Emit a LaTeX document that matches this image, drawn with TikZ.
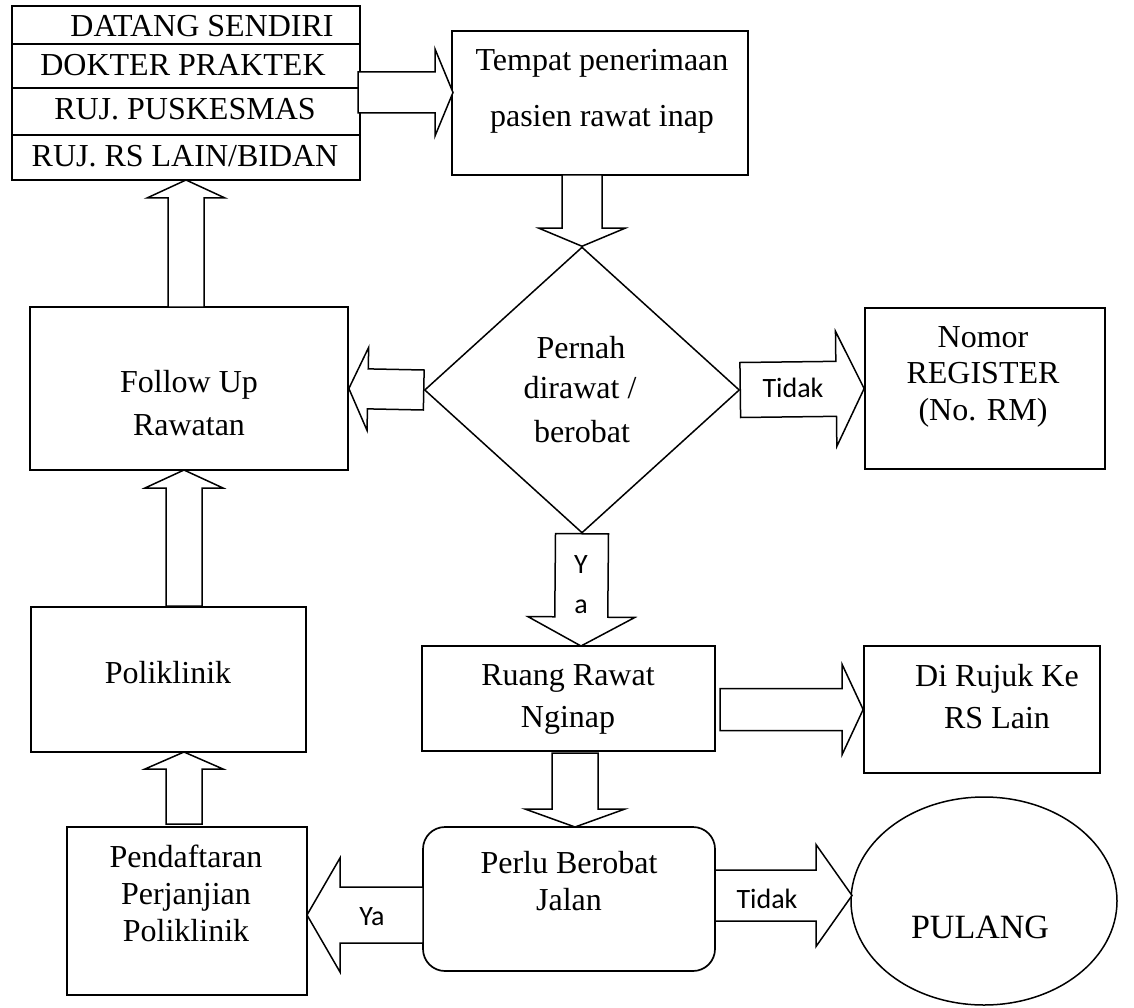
\documentclass[tikz,border=0pt]{standalone}
\usepackage{fontspec}
\setmainfont{Liberation Serif}
\newfontfamily\sansf{Carlito}
\usetikzlibrary{shapes.geometric,calc}

\tikzset{
  boxs/.style={draw, line width=1.7pt, inner sep=0pt},
  txt/.style={anchor=base, inner sep=0pt, font=\fontsize{32}{36}\selectfont},
  bigtxt/.style={anchor=base, inner sep=0pt, font=\fontsize{34}{38}\selectfont},
  stxt/.style={anchor=base, inner sep=0pt, font=\sansf\fontsize{28}{32}\selectfont},
  barrow/.style={draw, line width=1.5pt, fill=white, line join=miter},
}

% #1 from, #2 to, #3 shaft half width, #4 head half width, #5 head length
\newcommand\blockarrow[5]{%
  \coordinate (bahead) at ($(#2)!#5!(#1)$);
  \draw[barrow] ($(#1)!#3!90:(#2)$) -- ($(bahead)!#3!90:(#2)$) -- ($(bahead)!#4!90:(#2)$)
    -- (#2) -- ($(bahead)!#4!-90:(#2)$) -- ($(bahead)!#3!-90:(#2)$) -- ($(#1)!#3!-90:(#2)$) -- cycle;
}

\begin{document}
\begin{tikzpicture}[x=1pt,y=-1pt]
\useasboundingbox (0,0) rectangle (1134,1008);

% boxes
\node[boxs, minimum width=348pt, minimum height=174pt] (list) at (186,93) {};
\draw[line width=1.7pt] ($(list.north west)+(0,39)$) -- ($(list.north east)+(0,39)$);
\draw[line width=1.7pt] ($(list.north west)+(0,83)$) -- ($(list.north east)+(0,83)$);
\draw[line width=1.7pt] ($(list.north west)+(0,130)$) -- ($(list.north east)+(0,130)$);
\node[txt] (l1) at (202,37) {DATANG SENDIRI};
\node[txt] (l2) at (183,76) {DOKTER PRAKTEK};
\node[txt] (l3) at (185,120) {RUJ. PUSKESMAS};
\node[txt] (l4) at (185,167) {RUJ. RS LAIN/BIDAN};

\node[boxs, minimum width=296pt, minimum height=144pt] (tempat) at (600,103) {};
\node[txt] (t1) at (602,71) {Tempat penerimaan};
\node[txt] (t2) at (602,127) {pasien rawat inap};

\node[diamond, draw, line width=1.5pt, inner sep=0pt, minimum width=315pt, minimum height=286pt] (dia) at (582,390) {};
\node[txt] (d1) at (581,358) {Pernah};
\node[txt] (d2) at (580,398) {dirawat /};
\node[txt] (d3) at (582,442) {berobat};

\node[boxs, minimum width=318pt, minimum height=163pt] (follow) at (189,388.5) {};
\node[txt] (f1) at (189,392) {Follow Up};
\node[txt] (f2) at (189,435) {Rawatan};

\node[boxs, minimum width=240pt, minimum height=161pt] (nomor) at (985,388.5) {};
\node[txt] (n1) at (983,347) {Nomor};
\node[txt] (n2) at (983,383) {REGISTER};
\node[txt] (n3) at (983,420) {(No. RM)};

\node[boxs, minimum width=275pt, minimum height=145pt] (poli) at (168.5,679.5) {};
\node[txt] (p1) at (168,683) {Poliklinik};

\node[boxs, minimum width=293pt, minimum height=105pt] (ruang) at (568.5,698.5) {};
\node[txt] (r1) at (568,685) {Ruang Rawat};
\node[txt] (r2) at (568,727) {Nginap};

\node[boxs, minimum width=236pt, minimum height=127pt] (rujuk) at (982,709.5) {};
\node[txt] (j1) at (997,686) {Di Rujuk Ke};
\node[txt] (j2) at (997,728) {RS Lain};

\node[boxs, minimum width=240pt, minimum height=168pt] (pend) at (187,911) {};
\node[txt] (e1) at (186,867) {Pendaftaran};
\node[txt] (e2) at (186,904) {Perjanjian};
\node[txt] (e3) at (186,941) {Poliklinik};

\node[boxs, rounded corners=22pt, minimum width=292pt, minimum height=144pt] (perlu) at (569,899) {};
\node[txt] (u1) at (569,873) {Perlu Berobat};
\node[txt] (u2) at (569,910) {Jalan};

\node[ellipse, draw, line width=1.5pt, inner sep=0pt, minimum width=266pt, minimum height=208pt] (pulang) at (984,901) {};
\node[bigtxt] (pl) at (980,938) {PULANG};

% connector end points
\coordinate (a1s) at (358,92.5);
\coordinate (a1e) at (453,92.5);
\coordinate (a2s) at (582,175);
\coordinate (a5e) at (581,646);
\coordinate (a6s) at (720,709.5);
\coordinate (a7s) at (575,753);
\coordinate (a7e) at (575,827);
\coordinate (a8s) at (715,895.5);
\coordinate (a8e) at (852,895.5);
\coordinate (a9s) at (423,915);
\coordinate (a9e) at (307,915);
\coordinate (a10s) at (184,824);
\coordinate (a10e) at (184,752);
\coordinate (a11s) at (184,606);
\coordinate (a11e) at (184,470);
\coordinate (a12s) at (186,307);
\coordinate (a12e) at (186,180);

% block arrows
\blockarrow{a1s}{a1e}{20.5pt}{43.5pt}{18pt}
\blockarrow{a2s}{dia.north}{20pt}{43pt}{18pt}
\blockarrow{dia.west}{follow.east}{20pt}{41.5pt}{19pt}
\blockarrow{dia.east}{nomor.west}{27.5pt}{57.5pt}{28pt}
\blockarrow{dia.south}{a5e}{26.5pt}{53.5pt}{29pt}
\blockarrow{a6s}{rujuk.west}{21pt}{45pt}{21pt}
\blockarrow{a7s}{a7e}{23pt}{50pt}{18pt}
\blockarrow{a8s}{a8e}{25.5pt}{51pt}{36pt}
\blockarrow{a9s}{a9e}{28pt}{57pt}{33pt}
\blockarrow{a10s}{a10e}{18pt}{39pt}{17pt}
\blockarrow{a11s}{a11e}{18pt}{39pt}{18pt}
\blockarrow{a12s}{a12e}{18pt}{39pt}{18pt}

% arrow labels
\node[stxt] (tidak1) at (793,397) {Tidak};
\node[stxt] (ya1) at (581,573) {Y};
\node[stxt] (ya2) at (581,613) {a};
\node[stxt] (tidak2) at (767,908) {Tidak};
\node[stxt] (ya3) at (372,925) {Ya};
\end{tikzpicture}
\end{document}
